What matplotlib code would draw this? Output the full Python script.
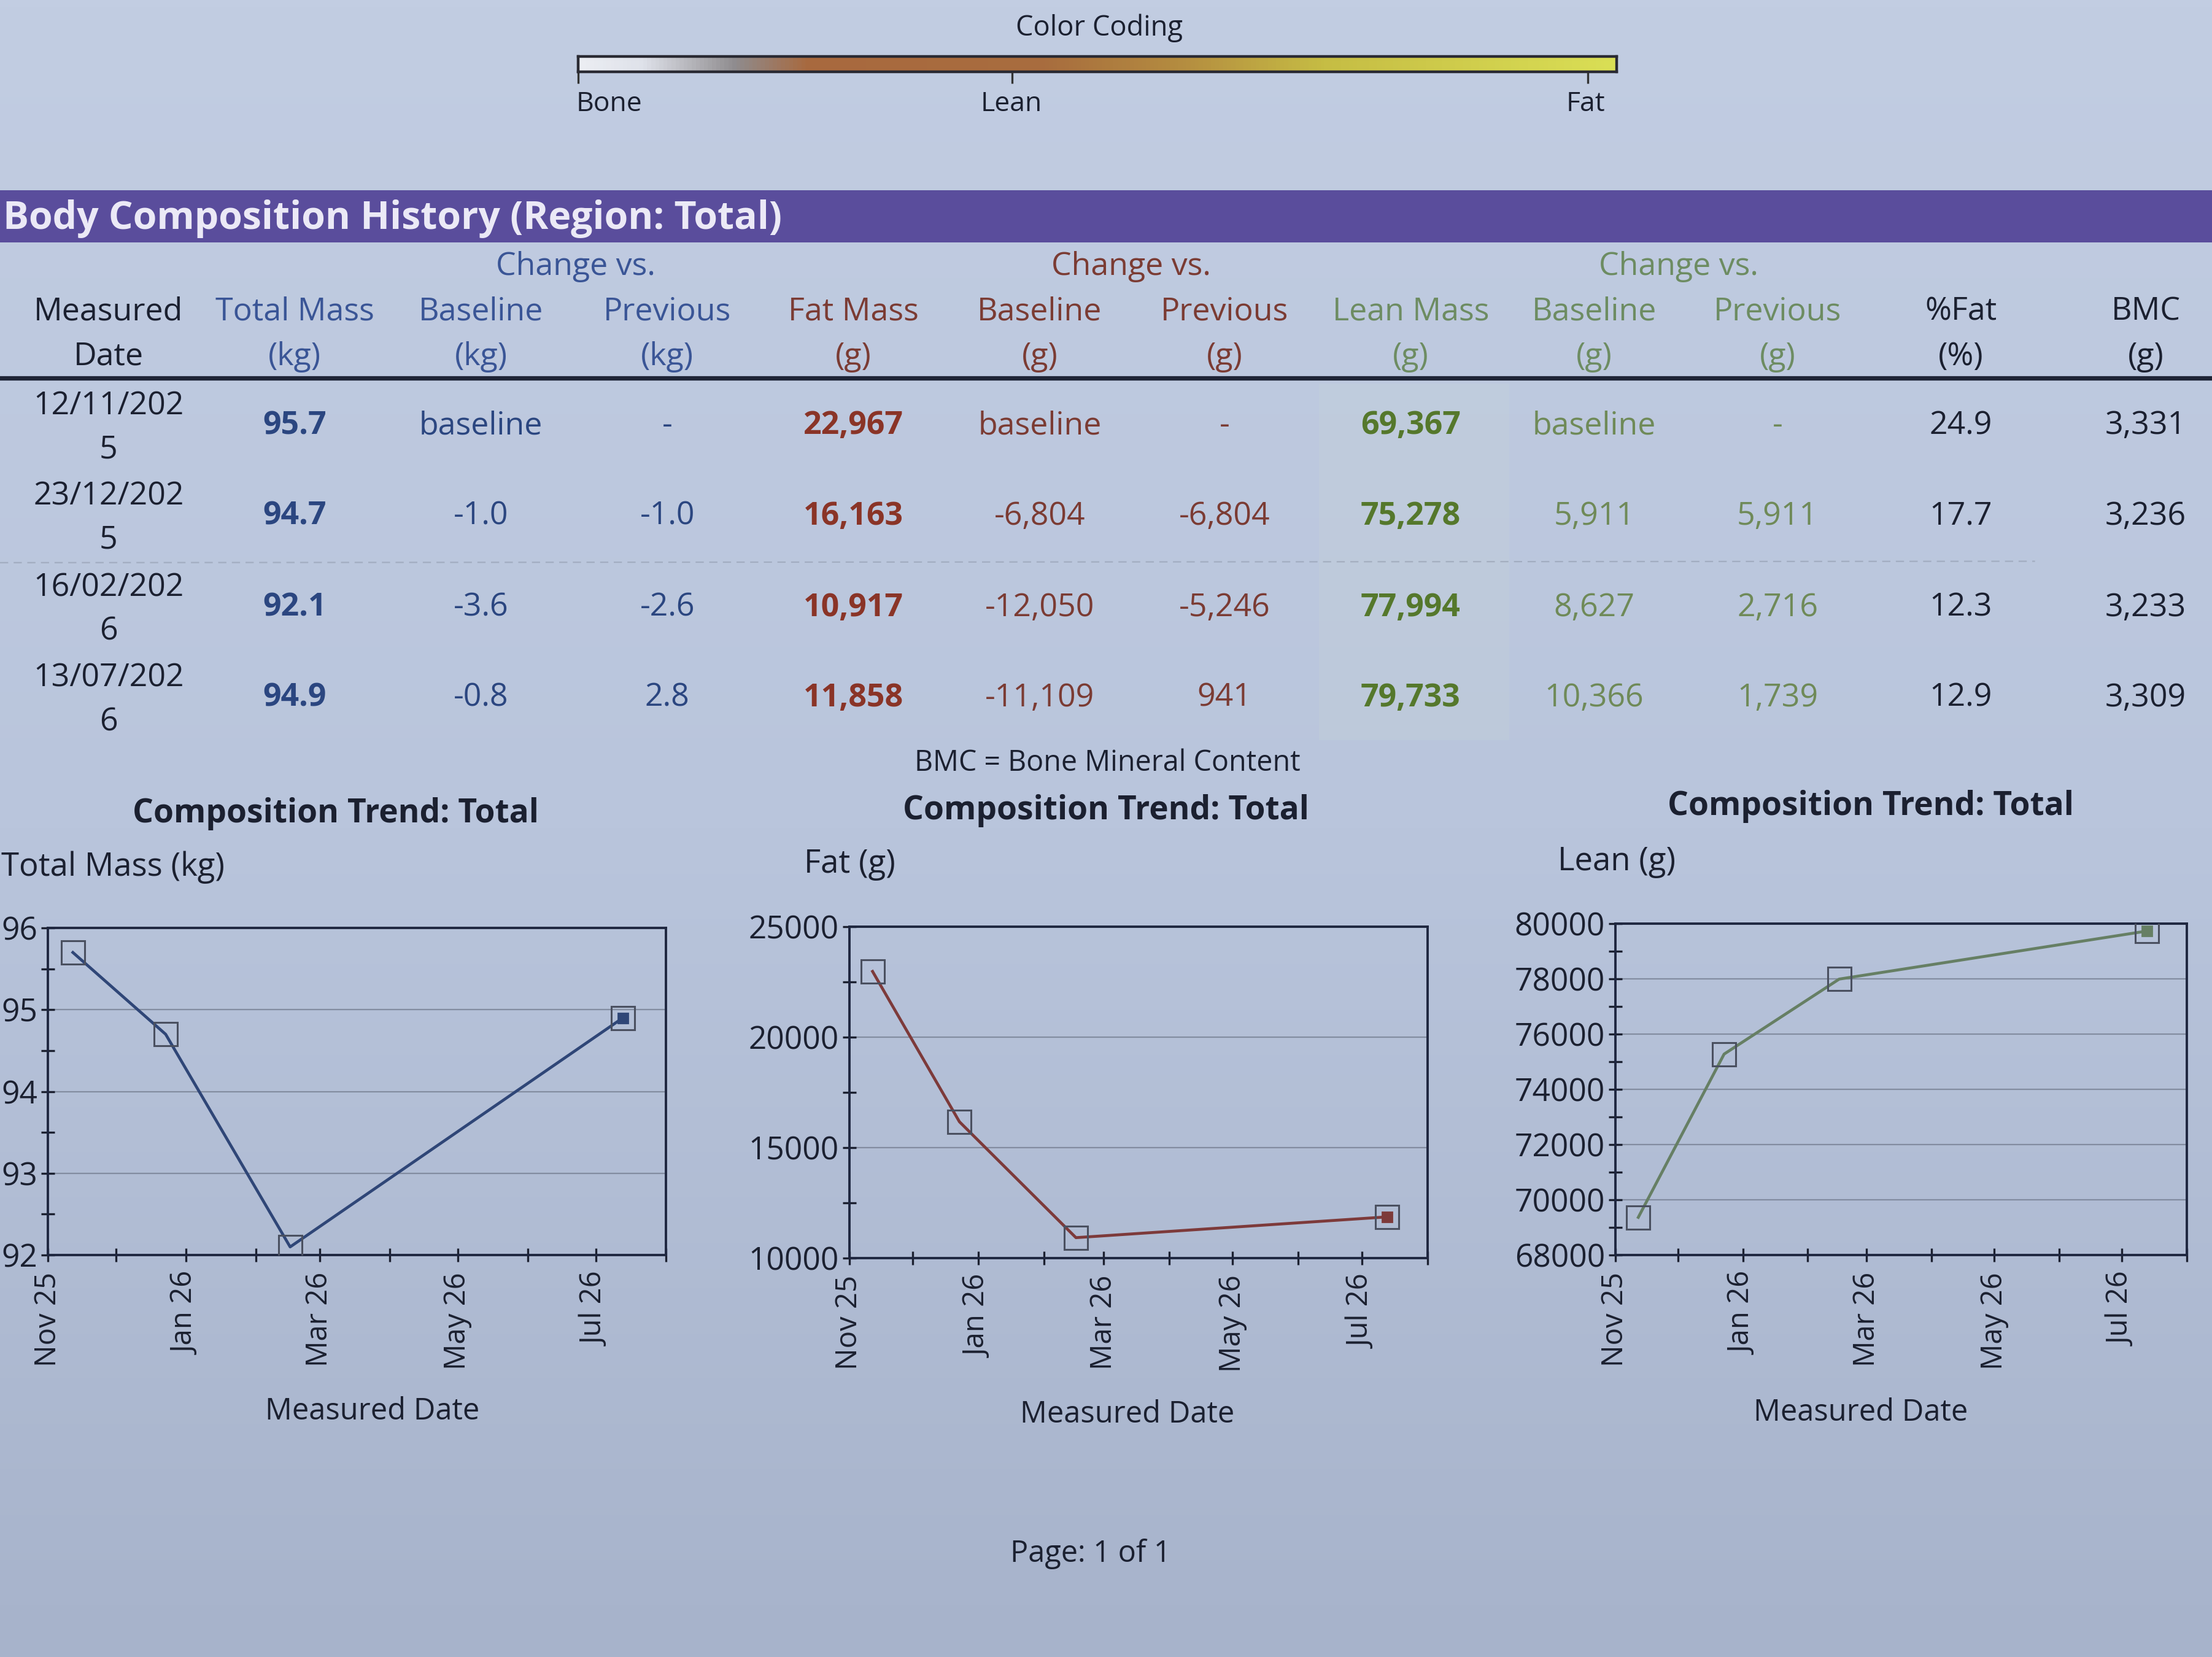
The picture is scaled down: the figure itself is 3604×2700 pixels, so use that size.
import matplotlib
matplotlib.use("Agg")
import matplotlib.pyplot as plt
import matplotlib.dates as mdates
from matplotlib.lines import Line2D
from matplotlib.patches import Rectangle
from matplotlib.colors import LinearSegmentedColormap
from matplotlib.ticker import MultipleLocator
import numpy as np
import pandas as pd

plt.rcParams['font.family'] = ['Open Sans', 'DejaVu Sans']

# ---------------- data ----------------
measured_dates = ["12/11/202\n5", "23/12/202\n5", "16/02/202\n6", "13/07/202\n6"]
plot_dates = ["2025-11-12", "2025-12-23", "2026-02-16", "2026-07-13"]
total_mass = [95.7, 94.7, 92.1, 94.9]
total_vs_base = ["baseline", "-1.0", "-3.6", "-0.8"]
total_vs_prev = ["-", "-1.0", "-2.6", "2.8"]
fat_mass = [22967, 16163, 10917, 11858]
fat_vs_base = ["baseline", "-6,804", "-12,050", "-11,109"]
fat_vs_prev = ["-", "-6,804", "-5,246", "941"]
lean_mass = [69367, 75278, 77994, 79733]
lean_vs_base = ["baseline", "5,911", "8,627", "10,366"]
lean_vs_prev = ["-", "5,911", "2,716", "1,739"]
pct_fat = [24.9, 17.7, 12.3, 12.9]
bmc = [3331, 3236, 3233, 3309]

header_line1 = ["Measured", "Total Mass", "Baseline", "Previous", "Fat Mass", "Baseline",
                "Previous", "Lean Mass", "Baseline", "Previous", "%Fat", "BMC"]
header_line2 = ["Date", "(kg)", "(kg)", "(kg)", "(g)", "(g)", "(g)", "(g)", "(g)", "(g)", "(%)", "(g)"]
colorbar_labels = ["Bone", "Lean", "Fat"]
month_labels_fmt = "%b %y"

# ---------------- style ----------------
W, H = 1568.0, 1175.0
def fx(x):
    return x / W
def fy(y):
    return 1 - y / H

BLUE = "#2b4680"
BLUE_H = "#3a5596"
RED = "#8a3427"
RED_H = "#7b3b33"
GREEN = "#55782c"
GREEN_L = "#6f8a58"
GREEN_H = "#6d8c62"
DARK = "#1b2030"
FS = 18.7

fig = plt.figure(figsize=(18.02, 13.5), dpi=200)

# background gradient (paper under light)
bg = fig.add_axes([0, 0, 1, 1], zorder=-10)
grad = np.linspace(0, 1, 256).reshape(-1, 1)
bg_cmap = LinearSegmentedColormap.from_list("bg", ["#c2cde2", "#b9c5dc", "#a7b3cb"])
bg.imshow(grad, aspect="auto", cmap=bg_cmap, extent=[0, 1, 0, 1], origin="upper")
bg.set_axis_off()

# ---------------- colour coding bar ----------------
fig.text(fx(779), fy(20), "Color Coding", ha="center", va="center", fontsize=16.3, color=DARK)
cb = fig.add_axes([fx(410), fy(51), (1146 - 410) / W, 11 / H])
cb_cmap = LinearSegmentedColormap.from_list(
    "cc", [(0.0, "#eceef3"), (0.06, "#dfe2ea"), (0.15, "#8f8c8e"), (0.22, "#a8693f"),
           (0.45, "#a86d3e"), (0.58, "#b48c40"), (0.72, "#c6bd44"), (1.0, "#dadf55")])
cb.imshow(np.linspace(0, 1, 512).reshape(1, -1), aspect="auto", cmap=cb_cmap, extent=[0, 1, 0, 1])
cb.set_yticks([])
cb.set_xticks([0.0, 0.418, 0.972])
cb.set_xticklabels([])
cb.tick_params(axis="x", length=7, width=1.2, color="#333333", direction="out")
for s in cb.spines.values():
    s.set_color("#2a2a33")
    s.set_linewidth(1.6)
for lbl, x in zip(colorbar_labels, [432, 717, 1124]):
    fig.text(fx(x), fy(74), lbl, ha="center", va="center", fontsize=16, color=DARK)

# ---------------- banner ----------------
fig.add_artist(Rectangle((0, fy(172)), 1, (172 - 135) / H, transform=fig.transFigure,
                         facecolor="#5a4d9c", edgecolor="none", zorder=1))
fig.text(fx(2), fy(155), "Body Composition History (Region: Total)", ha="left", va="center",
         fontsize=22.5, fontweight="bold", color="#ebe9f6", zorder=2)

# ---------------- table ----------------
col_x = [77, 209, 341, 473, 605, 737, 868, 1000, 1130, 1260, 1390, 1521]
head_colors = [DARK, BLUE_H, BLUE_H, BLUE_H, RED_H, RED_H, RED_H, GREEN_H, GREEN_H, GREEN_H, DARK, DARK]
for x, c, tx in zip([408, 802, 1190], [BLUE_H, RED_H, GREEN_H], ["Change vs."] * 3):
    fig.text(fx(x), fy(189), tx, ha="center", va="center", fontsize=FS, color=c)
for x, t1, t2, c in zip(col_x, header_line1, header_line2, head_colors):
    fig.text(fx(x), fy(221), t1, ha="center", va="center", fontsize=FS, color=c)
    fig.text(fx(x), fy(253), t2, ha="center", va="center", fontsize=FS, color=c)

fig.add_artist(Line2D([0, 1], [fy(268), fy(268)], transform=fig.transFigure, lw=2.6, color="#1f2537"))
fig.add_artist(Line2D([0, 0.92], [fy(399), fy(398)], transform=fig.transFigure, lw=0.8,
                      color="#7d8697", ls=(0, (6, 4)), alpha=0.4))
# faint tint behind lean mass column
fig.add_artist(Rectangle((fx(935), fy(525)), (1070 - 935) / W, (525 - 272) / H, transform=fig.transFigure,
                         facecolor="#c7d4d8", edgecolor="none", alpha=0.28, zorder=0))

row_y = [302, 366, 431, 495]
for i, y in enumerate(row_y):
    d1, d2 = measured_dates[i].split("\n")
    fig.text(fx(col_x[0]), fy(y - 14), d1, ha="center", va="center", fontsize=FS, color=DARK)
    fig.text(fx(col_x[0]), fy(y + 17), d2, ha="center", va="center", fontsize=FS, color=DARK)
    cells = [
        (f"{total_mass[i]:.1f}", BLUE, "bold"),
        (total_vs_base[i], BLUE, "normal"),
        (total_vs_prev[i], BLUE, "normal"),
        (f"{fat_mass[i]:,}", RED, "bold"),
        (fat_vs_base[i], RED_H, "normal"),
        (fat_vs_prev[i], RED_H, "normal"),
        (f"{lean_mass[i]:,}", GREEN, "bold"),
        (lean_vs_base[i], GREEN_L, "normal"),
        (lean_vs_prev[i], GREEN_L, "normal"),
        (f"{pct_fat[i]:.1f}", DARK, "normal"),
        (f"{bmc[i]:,}", DARK, "normal"),
    ]
    for x, (txt, c, w) in zip(col_x[1:], cells):
        fig.text(fx(x), fy(y), txt, ha="center", va="center", fontsize=FS, color=c, fontweight=w)

fig.text(fx(785), fy(541), "BMC = Bone Mineral Content", ha="center", va="center", fontsize=16.8, color=DARK)

# ---------------- charts ----------------
dates = pd.to_datetime(plot_dates)
charts = [
    dict(box=(34, 472, 658, 890), vals=total_mass, color="#2f4677", ylim=(92, 96), major=1, minor=0.5,
         title_xy=(238, 577), ylabel="Total Mass (kg)", ylabel_xy=(1, 615), xlabel_xy=(264, 1001)),
    dict(box=(602, 1012, 657, 892), vals=fat_mass, color="#7d3a3a", ylim=(10000, 25000), major=5000, minor=2500,
         title_xy=(784, 575), ylabel="Fat (g)", ylabel_xy=(570, 613), xlabel_xy=(799, 1003)),
    dict(box=(1145, 1550, 655, 890), vals=lean_mass, color="#667f64", ylim=(68000, 80000), major=2000, minor=1000,
         title_xy=(1326, 572), ylabel="Lean (g)", ylabel_xy=(1104, 611), xlabel_xy=(1319, 1002)),
]

for ch in charts:
    l, r, t, b = ch["box"]
    ax = fig.add_axes([fx(l), fy(b), (r - l) / W, (b - t) / H])
    ax.set_facecolor("none")
    ax.plot(dates, ch["vals"], color=ch["color"], lw=1.7, marker="s", markersize=14,
            markerfacecolor="none", markeredgecolor="#4a5060", markeredgewidth=1.1, zorder=3)
    ax.plot(dates[-1:], ch["vals"][-1:], ls="none", marker="s", markersize=5.5,
            color=ch["color"], zorder=4)
    ax.set_ylim(*ch["ylim"])
    ax.set_xlim(pd.Timestamp("2025-11-01"), pd.Timestamp("2026-08-01"))
    ax.yaxis.set_major_locator(MultipleLocator(ch["major"]))
    ax.yaxis.set_minor_locator(MultipleLocator(ch["minor"]))
    ax.xaxis.set_major_locator(mdates.MonthLocator(bymonth=[1, 3, 5, 7, 11]))
    ax.xaxis.set_minor_locator(mdates.MonthLocator())
    ax.xaxis.set_major_formatter(mdates.DateFormatter(month_labels_fmt))
    ax.grid(axis="y", which="major", color="#6f788a", lw=0.8, alpha=0.7)
    ax.tick_params(axis="both", which="both", direction="inout", length=8, width=1.2,
                   colors=DARK, pad=2)
    ax.tick_params(axis="y", labelsize=18.5)
    ax.tick_params(axis="x", labelsize=17, labelrotation=90, pad=6)
    for s in ax.spines.values():
        s.set_color("#1f2740")
        s.set_linewidth(1.4)
    fig.text(fx(ch["title_xy"][0]), fy(ch["title_xy"][1]), "Composition Trend: Total", ha="center",
             va="center", fontsize=19.2, fontweight="bold", color=DARK)
    fig.text(fx(ch["ylabel_xy"][0]), fy(ch["ylabel_xy"][1]), ch["ylabel"], ha="left", va="center",
             fontsize=19, color=DARK)
    fig.text(fx(ch["xlabel_xy"][0]), fy(ch["xlabel_xy"][1]), "Measured Date", ha="center", va="center",
             fontsize=17.6, color=DARK)

fig.text(fx(773), fy(1102), "Page: 1 of 1", ha="center", va="center", fontsize=17.5, color=DARK)

fig.savefig("out.png", dpi=200)
